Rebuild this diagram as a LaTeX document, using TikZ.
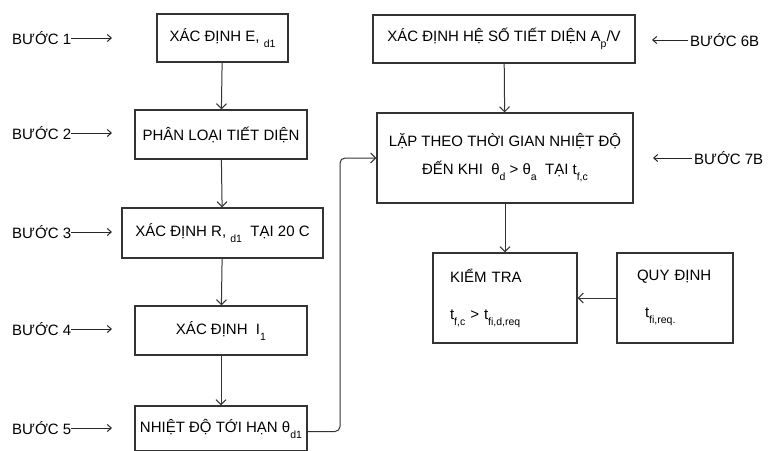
\documentclass[tikz,border=0pt]{standalone}
\usepackage{fontspec}
\setmainfont{Liberation Sans}
\usetikzlibrary{arrows.meta}
\newcommand{\lowsub}[1]{\raisebox{-6pt}{\fontsize{10.5}{10.5}\selectfont #1}}
\begin{document}
\begin{tikzpicture}[x=1pt,y=-1pt,
  font=\fontsize{15}{18}\selectfont,
  box/.style={draw=black!80,line width=1.3pt,rectangle,inner sep=0pt,align=center},
  flow/.style={draw=black!80,line width=1pt,-{Straight Barb[length=5pt,width=10pt]}},
  steplbl/.style={inner sep=0pt},
  stepar/.style={draw=black!85,line width=1pt,-{Straight Barb[length=4pt,width=7pt]}}]
\useasboundingbox (0,0) rectangle (779,450);
\clip (0,0) rectangle (779,450);
\fill[white] (0,0) rectangle (779,450);
% left column
\node[box,minimum width=131pt,minimum height=48pt] (b1) at (222.5,38) {XÁC ĐỊNH E, \lowsub{d1}};
\node[box,minimum width=172pt,minimum height=49pt] (b2) at (221,134.5) {PHÂN LOẠI TIẾT DIỆN};
\node[box,minimum width=201pt,minimum height=50pt] (b3) at (222.5,233) {XÁC ĐỊNH R, \lowsub{d1}\ \ TẠI 20 C};
\node[box,minimum width=172pt,minimum height=49pt] (b4) at (221,330.5) {XÁC ĐỊNH\ \ I\lowsub{1}};
\node[box,minimum width=172pt,minimum height=45pt] (b5) at (221,428.5) {NHIỆT ĐỘ TỚI HẠN θ\lowsub{d1}};
% right column
\node[box,minimum width=262pt,minimum height=48pt] (b6) at (504,39) {XÁC ĐỊNH HỆ SỐ TIẾT DIỆN A\lowsub{p}/V};
\node[box,minimum width=256pt,minimum height=90pt] (b7) at (505,158) {LẶP THEO THỜI GIAN NHIỆT ĐỘ\\[10pt] ĐẾN KHI\ \ θ\lowsub{d} > θ\lowsub{a}\ \ TẠI t\lowsub{f,c}};
\node[box,minimum width=144pt,minimum height=90pt,text width=110pt,align=left] (b8) at (505,298) {KIỂM TRA\\[19pt] t\lowsub{f,c} > t\lowsub{fi,d,req}};
\node[box,minimum width=116pt,minimum height=90pt,text width=76pt,align=left] (b9) at (675,298) {QUY ĐỊNH\\[19pt] \hspace*{8pt}t\lowsub{fi,req.}};
% step labels
\node[steplbl,anchor=west] (s1) at (12,38) {BƯỚC 1};
\node[steplbl,anchor=west] (s2) at (12,133) {BƯỚC 2};
\node[steplbl,anchor=west] (s3) at (12,232) {BƯỚC 3};
\node[steplbl,anchor=west] (s4) at (12,329) {BƯỚC 4};
\node[steplbl,anchor=west] (s5) at (12,428) {BƯỚC 5};
\node[steplbl,anchor=west] (s6) at (690,40) {BƯỚC 6B};
\node[steplbl,anchor=west] (s7) at (694,158) {BƯỚC 7B};
\coordinate (e1) at (112,38);
\coordinate (e2) at (112,133);
\coordinate (e3) at (112,232);
\coordinate (e4) at (112,329);
\coordinate (e5) at (112,428);
\coordinate (e6) at (652,40);
\coordinate (e7) at (653,158);
\draw[stepar] (s1.east) -- (e1);
\draw[stepar] (s2.east) -- (e2);
\draw[stepar] (s3.east) -- (e3);
\draw[stepar] (s4.east) -- (e4);
\draw[stepar] (s5.east) -- (e5);
\draw[stepar] ([xshift=-2pt]s6.west) -- (e6);
\draw[stepar] ([xshift=-2pt]s7.west) -- (e7);
% flow connectors
\draw[flow] (b1) -- (b2);
\draw[flow] (b2) -- (b3);
\draw[flow] (b3) -- (b4);
\draw[flow] (b4) -- (b5);
\draw[flow] (b6) -- (b7);
\draw[flow] (b7) -- (b8);
\draw[flow] (b9) -- (b8);
\coordinate (turn) at (340,0);
\draw[flow,rounded corners=5pt] ([yshift=-3pt]b5.east) -| (turn |- b7.west) -- (b7.west);
\end{tikzpicture}
\end{document}
